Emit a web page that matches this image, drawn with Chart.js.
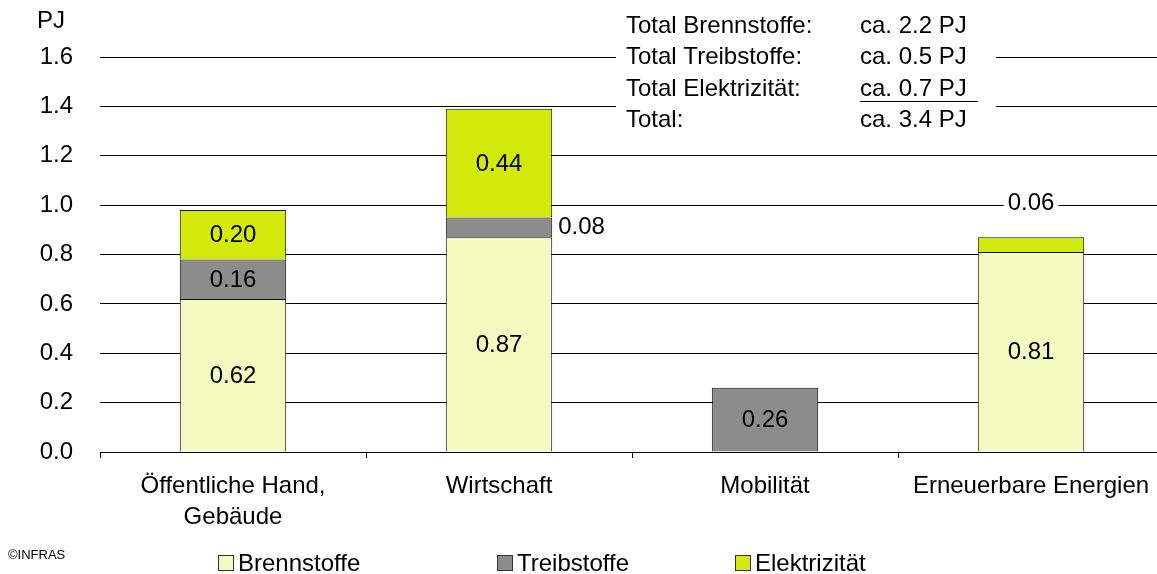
<!DOCTYPE html>
<html>
<head>
<meta charset="utf-8">
<script src="https://cdn.jsdelivr.net/npm/chart.js@4/dist/chart.umd.min.js"></script>
<style>
  html, body { margin: 0; padding: 0; overflow: hidden; background: #fff; }
  #wrap { position: relative; width: 1164px; height: 574px; }
</style>
</head>
<body>
<div id="wrap"><canvas id="chart"></canvas></div>
<script>
const categories = [["Öffentliche Hand,", "Gebäude"], "Wirtschaft", "Mobilität", "Erneuerbare Energien"];
const brennstoffe = [0.62, 0.87, null, 0.81];
const treibstoffe = [0.16, 0.08, 0.26, null];
const elektrizitaet = [0.20, 0.44, null, 0.06];
const seriesNames = ["Brennstoffe", "Treibstoffe", "Elektrizität"];
const totalNames = ["Total Brennstoffe:", "Total Treibstoffe:", "Total Elektrizität:", "Total:"];
const totalValues = ["ca. 2.2 PJ", "ca. 0.5 PJ", "ca. 0.7 PJ", "ca. 3.4 PJ"];
const unitLabel = "PJ";
const sourceNote = "©INFRAS";

const FAMILY = "'Liberation Sans', Arial, sans-serif";
const SIZE = 24;
const FONT = SIZE + "px " + FAMILY;
const colors = ["#F3FBC1", "#8C8C8C", "#D4EA0C"];

// value labels, summary box, unit, legend and source note
const overlay = {
  id: "overlay",
  afterDatasetsDraw(chart) {
    const ctx = chart.ctx;
    const sets = chart.data.datasets;
    ctx.save();
    ctx.font = FONT;
    ctx.textBaseline = "middle";
    sets.forEach((ds, di) => {
      const meta = chart.getDatasetMeta(di);
      meta.data.forEach((bar, i) => {
        const v = ds.data[i];
        if (v == null) return;
        const label = v.toFixed(2);
        const w = ctx.measureText(label).width;
        const h = Math.abs(bar.base - bar.y);
        let x, y;
        if (h >= 25) {
          x = bar.x - w / 2;
          y = (bar.y + bar.base) / 2 + 1;
        } else if (di === sets.length - 1) {
          x = bar.x - w / 2;
          y = bar.y - 34;
          ctx.fillStyle = "#fff";
          ctx.fillRect(x - 4, y - 18, w + 8, 36);
        } else {
          x = bar.x + bar.width / 2 + 6;
          y = (bar.y + bar.base) / 2;
          ctx.fillStyle = "#fff";
          ctx.fillRect(x - 4, y - 21, w + 10, 42);
        }
        ctx.fillStyle = "#000";
        ctx.textAlign = "left";
        ctx.fillText(label, x, y);
      });
    });
    ctx.restore();
  },
  afterDraw(chart) {
    const ctx = chart.ctx;
    ctx.save();
    ctx.font = FONT;
    ctx.textBaseline = "middle";
    ctx.fillStyle = "#000";
    ctx.fillText(unitLabel, 37, 21);

    // totals box
    ctx.fillStyle = "#fff";
    ctx.fillRect(616, 4, 380, 132);
    ctx.fillStyle = "#000";
    totalNames.forEach((t, i) => {
      const y = 26 + i * 31.5;
      ctx.fillText(t, 626, y);
      ctx.fillText(totalValues[i], 860, y);
    });
    ctx.strokeStyle = "#000";
    ctx.lineWidth = 1;
    ctx.beginPath();
    ctx.moveTo(860, 101.5);
    ctx.lineTo(978, 101.5);
    ctx.stroke();

    // legend
    const lx = [218, 497, 735];
    seriesNames.forEach((name, i) => {
      ctx.fillStyle = colors[i];
      ctx.fillRect(lx[i] + 0.5, 555.5, 15, 15);
      ctx.strokeStyle = "#333";
      ctx.strokeRect(lx[i] + 0.5, 555.5, 15, 15);
      ctx.fillStyle = "#000";
      ctx.fillText(name, lx[i] + 20, 564);
    });

    ctx.font = "13px " + FAMILY;
    ctx.fillText(sourceNote, 8, 555);
    ctx.restore();
  }
};

const datasets = [brennstoffe, treibstoffe, elektrizitaet].map((d, i) => ({
  label: seriesNames[i],
  data: d,
  backgroundColor: colors[i],
  borderColor: "#111",
  borderWidth: { top: 1, left: 1, right: 1, bottom: 0 },
  borderSkipped: false,
  barPercentage: 0.4,
  categoryPercentage: 1.0,
}));

new Chart(document.getElementById("chart"), {
  type: "bar",
  data: { labels: categories, datasets },
  plugins: [overlay],
  options: {
    responsive: true,
    maintainAspectRatio: false,
    animation: false,
    layout: { padding: { top: 57, left: 0, right: 0, bottom: 0 } },
    plugins: {
      legend: { display: false },
      tooltip: { enabled: false },
    },
    scales: {
      x: {
        stacked: true,
        afterFit: (s) => { s.height = 122; },
        grid: {
          display: true,
          drawOnChartArea: false,
          drawTicks: true,
          tickLength: 6,
          color: "#000",
          offset: true,
        },
        border: { display: true, color: "#000", width: 1 },
        ticks: {
          color: "#000",
          padding: 13,
          maxRotation: 0,
          font: { family: FAMILY, size: SIZE, lineHeight: 1.3 },
        },
      },
      y: {
        stacked: true,
        min: 0,
        max: 1.6,
        afterFit: (s) => { s.width = 100; },
        grid: { color: "#000", lineWidth: 1, drawTicks: false },
        border: { display: false },
        ticks: {
          stepSize: 0.2,
          color: "#000",
          padding: 27,
          font: { family: FAMILY, size: SIZE },
          callback: (v) => v.toFixed(1),
        },
      },
    },
  },
});
</script>
</body>
</html>
